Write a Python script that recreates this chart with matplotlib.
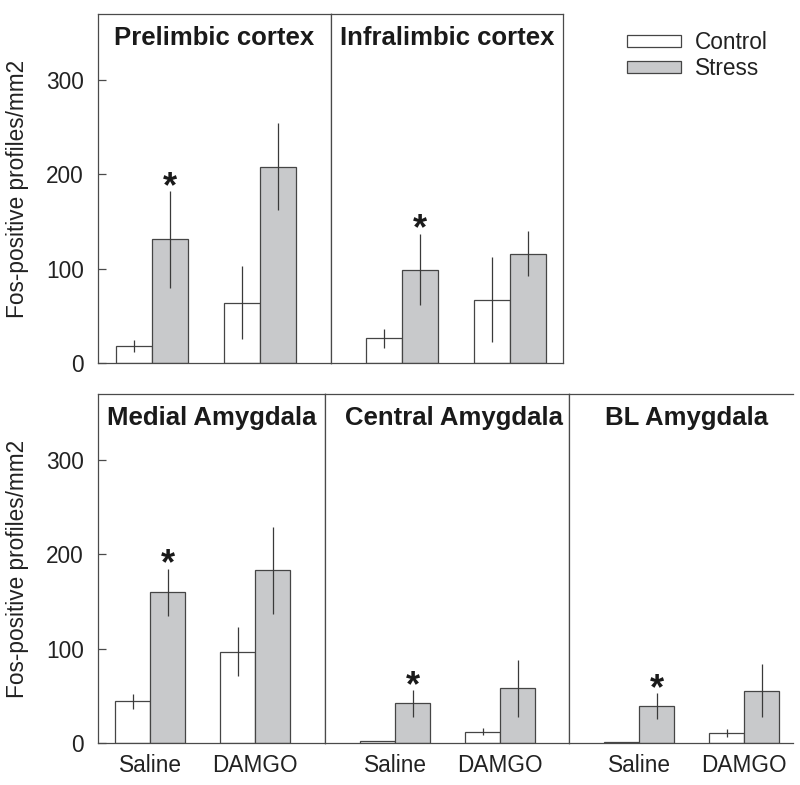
import matplotlib
matplotlib.use("Agg")
import matplotlib.pyplot as plt
from matplotlib.patches import Patch

plt.rcParams['font.family'] = ['Liberation Sans', 'DejaVu Sans']

# ---------------- data ----------------
groups = ["Saline", "DAMGO"]
regions = ["Prelimbic cortex", "Infralimbic cortex",
           "Medial Amygdala", "Central Amygdala", "BL Amygdala"]

control_mean = {
    "Prelimbic cortex": [18, 64],
    "Infralimbic cortex": [26, 67],
    "Medial Amygdala": [44, 97],
    "Central Amygdala": [2, 12],
    "BL Amygdala": [1, 10.5],
}
control_err = {
    "Prelimbic cortex": [6, 39],
    "Infralimbic cortex": [10, 45],
    "Medial Amygdala": [7.5, 26],
    "Central Amygdala": [0, 4],
    "BL Amygdala": [0, 4],
}
stress_mean = {
    "Prelimbic cortex": [131, 208],
    "Infralimbic cortex": [99, 116],
    "Medial Amygdala": [160, 183],
    "Central Amygdala": [42, 58],
    "BL Amygdala": [39, 55.5],
}
stress_err = {
    "Prelimbic cortex": [51, 46],
    "Infralimbic cortex": [38, 24],
    "Medial Amygdala": [25, 46.5],
    "Central Amygdala": [14, 30],
    "BL Amygdala": [14, 28],
}
significant = {r: [True, False] for r in regions}
yticks = [0, 100, 200, 300]
ylabel = "Fos-positive profiles/mm2"
legend_labels = ["Control", "Stress"]

# ---------------- style / layout ----------------
W, H = 800, 785
fig = plt.figure(figsize=(W / 100, H / 100), dpi=100)

FS = 16.3
spine_c = "#4a4a4a"
edge_c = "#454545"
stress_c = "#c8c9cb"
err_c = "#3a3a3a"

# axes pixel boxes: (x0, x1, y_top, y_bottom, xlim, title_xfrac)
layout = {
    "Prelimbic cortex":   (98, 331, 14, 363, (-1.5, 4.972), 0.5),
    "Infralimbic cortex": (331, 563, 14, 363, (-1.972, 4.472), 0.5),
    "Medial Amygdala":    (98, 325, 394, 743, (-1.486, 5.0), 0.5),
    "Central Amygdala":   (325, 569, 394, 743, (-2.0, 4.971), 0.53),
    "BL Amygdala":        (569, 793, 394, 743, (-2.0, 4.4), 0.525),
}
positions = [0, 3]

for i, r in enumerate(regions):
    x0, x1, yt, yb, xl, tx = layout[r]
    ax = fig.add_axes([x0 / W, 1 - yb / H, (x1 - x0) / W, (yb - yt) / H])
    xc = [p - 0.5 for p in positions]
    xs = [p + 0.5 for p in positions]
    ax.bar(xc, control_mean[r], width=1.0, color="white",
           edgecolor=edge_c, linewidth=0.9, zorder=2)
    ax.bar(xs, stress_mean[r], width=1.0, color=stress_c,
           edgecolor=edge_c, linewidth=0.9, zorder=2)
    ax.errorbar(xc, control_mean[r], yerr=control_err[r], fmt="none",
                ecolor=err_c, elinewidth=0.9, capsize=0, zorder=3)
    ax.errorbar(xs, stress_mean[r], yerr=stress_err[r], fmt="none",
                ecolor=err_c, elinewidth=0.9, capsize=0, zorder=3)
    for j, sig in enumerate(significant[r]):
        if sig:
            ytop = stress_mean[r][j] + stress_err[r][j]
            ax.annotate("*", xy=(xs[j], ytop), xytext=(0, -10),
                        textcoords="offset points", ha="center", va="bottom",
                        fontsize=26, fontweight="bold", color="#1a1a1a")
    ax.set_xlim(*xl)
    ax.set_ylim(0, 370)
    ax.text(tx, 0.932, r, transform=ax.transAxes, ha="center", va="center",
            fontsize=18.5, fontweight="bold", color="#1a1a1a")

    for s in ax.spines.values():
        s.set_color(spine_c)
        s.set_linewidth(0.9)
    top_row = i < 2
    if not top_row and r == "BL Amygdala":
        ax.spines["right"].set_visible(False)

    if r in ("Prelimbic cortex", "Medial Amygdala"):
        ax.set_yticks(yticks)
        ax.tick_params(axis="y", direction="in", length=6, width=0.9,
                       color=spine_c, labelsize=FS, pad=10, labelcolor="#222222")
    else:
        ax.set_yticks([])
    if top_row:
        ax.set_xticks([])
    else:
        ax.set_xticks(positions)
        ax.set_xticklabels(groups)
        ax.tick_params(axis="x", length=0, labelsize=FS, pad=8,
                       labelcolor="#222222")

# y labels
fig.text(18 / W, 1 - 188.5 / H, ylabel, rotation=90, ha="center", va="center",
         fontsize=FS, color="#222222")
fig.text(18 / W, 1 - 568.5 / H, ylabel, rotation=90, ha="center", va="center",
         fontsize=FS, color="#222222")

# legend
handles = [Patch(facecolor="white", edgecolor=edge_c, linewidth=0.9),
           Patch(facecolor=stress_c, edgecolor=edge_c, linewidth=0.9)]
fig.legend(handles, legend_labels, loc="upper left",
           bbox_to_anchor=(627 / W, 1 - 31 / H), frameon=False,
           fontsize=FS, handlelength=2.4, handleheight=0.45,
           handletextpad=0.6, labelspacing=0.15, borderpad=0,
           borderaxespad=0, labelcolor="#222222")

fig.savefig("out.png", dpi=100)
